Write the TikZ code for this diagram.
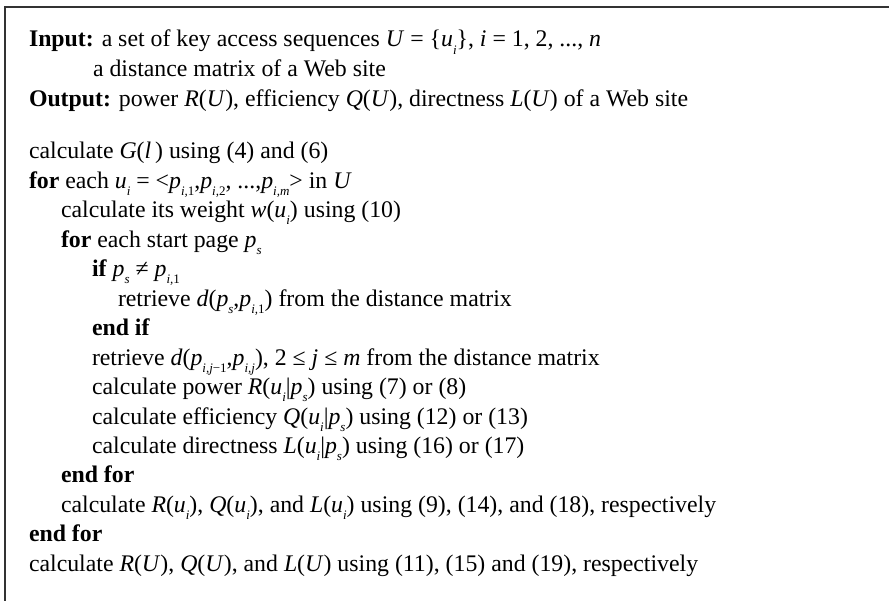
\documentclass[tikz,border=0pt]{standalone}
\usepackage{fontspec}
\setmainfont{Liberation Serif}
\usepackage{tikz}
\usetikzlibrary{positioning}
\newcommand{\va}[1]{\textit{#1}}
\newcommand{\sub}[1]{\raisebox{-0.65ex}{\fontsize{13}{13}\selectfont\itshape #1}}
\tikzset{
  algline/.style={
    anchor=base west, inner sep=0pt, outer sep=0pt,
    font=\fontsize{23.8}{28}\selectfont
  },
  algframe/.style={
    line width=1.3pt, color=black!80
  },
}

\begin{document}
\begin{tikzpicture}[x=1pt, y=-1pt]
  \useasboundingbox (0,0) rectangle (889,601);

  % ── Frame (top and left rules only) ───────────────────────────
  \coordinate (tl) at (5,7);
  \coordinate (tr) at (889,7);
  \coordinate (bl) at (5,601);
  \draw[algframe] (tr) -- (tl) -- (bl);

  % ── Header ────────────────────────────────────────────────────
  \node[algline] (input) at (29,47)
    {\textbf{Input:} a set of key access sequences \va{U} = \{\va{u}\sub{i}\}, \va{i} = 1, 2, ..., \va{n}};
  \node[algline] (matrix) at (93,77) {a distance matrix of a Web site};
  \node[algline] (output) at (29,107)
    {\textbf{Output:} power \va{R}(\va{U}), efficiency \va{Q}(\va{U}), directness \va{L}(\va{U}) of a Web site};

  % ── Body ──────────────────────────────────────────────────────
  \node[algline] (calcg) at (29,159) {calculate \va{G}(\va{l}\,) using (4) and (6)};
  \node[algline] (forseq) at (29,188.45)
    {\textbf{for} each \va{u}\sub{i} = <\va{p}\sub{i,\textup{1}},\va{p}\sub{i,\textup{2}}, ...,\va{p}\sub{i,m}> in \va{U}};
  \node[algline] (weight) at (61,217.9) {calculate its weight \va{w}(\va{u}\sub{i}) using (10)};
  \node[algline] (forstart) at (61,247.35) {\textbf{for} each start page \va{p}\sub{s}};
  \node[algline] (ifstart) at (92,276.8) {\textbf{if} \va{p}\sub{s} ≠ \va{p}\sub{i,\textup{1}}};
  \node[algline] (getfirst) at (118,306.25)
    {retrieve \va{d}(\va{p}\sub{s},\va{p}\sub{i,\textup{1}}) from the distance matrix};
  \node[algline] (endif) at (92,335.7) {\textbf{end if}};
  \node[algline] (getrest) at (92,365.15)
    {retrieve \va{d}(\va{p}\sub{i,j\textup{−1}},\va{p}\sub{i,j}), 2 ≤ \va{j} ≤ \va{m} from the distance matrix};
  \node[algline] (power) at (92,394.6) {calculate power \va{R}(\va{u}\sub{i}|\va{p}\sub{s}) using (7) or (8)};
  \node[algline] (effic) at (92,424.05) {calculate efficiency \va{Q}(\va{u}\sub{i}|\va{p}\sub{s}) using (12) or (13)};
  \node[algline] (direct) at (92,453.5) {calculate directness \va{L}(\va{u}\sub{i}|\va{p}\sub{s}) using (16) or (17)};
  \node[algline] (endstart) at (61,482.95) {\textbf{end for}};
  \node[algline] (seqsum) at (61,512.4)
    {calculate \va{R}(\va{u}\sub{i}), \va{Q}(\va{u}\sub{i}), and \va{L}(\va{u}\sub{i}) using (9), (14), and (18), respectively};
  \node[algline] (endseq) at (29,541.85) {\textbf{end for}};
  \node[algline] (sitesum) at (29,571.3)
    {calculate \va{R}(\va{U}), \va{Q}(\va{U}), and \va{L}(\va{U}) using (11), (15) and (19), respectively};
\end{tikzpicture}
\end{document}
